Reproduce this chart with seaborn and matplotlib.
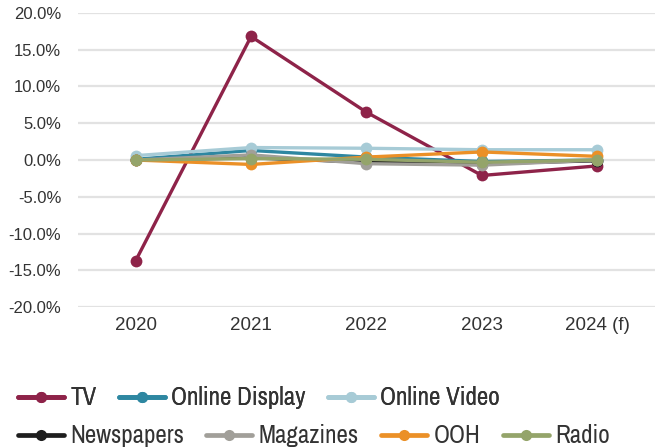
import matplotlib
matplotlib.use("Agg")
import matplotlib.pyplot as plt
from matplotlib.lines import Line2D
from matplotlib import font_manager
import seaborn as sns
import pandas as pd

years = ["2020", "2021", "2022", "2023", "2024 (f)"]
channels = ["TV", "Online Display", "Online Video", "Newspapers", "Magazines", "OOH", "Radio"]

tv = [-13.7, 16.8, 6.5, -2.1, -0.8]
online_display = [0.1, 1.3, 0.4, -0.2, 0.0]
online_video = [0.6, 1.7, 1.6, 1.4, 1.4]
newspapers = [0.0, 0.3, -0.3, -0.5, -0.1]
magazines = [0.0, 0.7, -0.5, -0.7, 0.0]
ooh = [0.0, -0.6, 0.4, 1.1, 0.5]
radio = [0.0, 0.2, 0.1, -0.3, 0.0]

colors = ["#8E2349", "#2E87A1", "#A7CBD6", "#1E1E1E", "#A19F99", "#EB9027", "#94A46A"]

series = [tv, online_display, online_video, newspapers, magazines, ooh, radio]
rows = []
for name, vals in zip(channels, series):
    for y, v in zip(years, vals):
        rows.append({"Year": y, "Channel": name, "Change": v})
df = pd.DataFrame(rows)

sns.set_theme(style="white")
plt.rcParams["font.family"] = ["Liberation Sans", "DejaVu Sans"]

# prefer a condensed face for the legend when one is available
installed = sorted({f.name for f in font_manager.fontManager.ttflist})
narrow = [n for n in installed if "Narrow" in n or "Condensed" in n]
if narrow:
    legend_font = {"family": narrow[0], "size": 18}
else:
    legend_font = {"family": "Roboto", "size": 15}

fig = plt.figure(figsize=(6.55, 4.47), dpi=100)
ax = fig.add_axes([0.119, 0.313, 0.881, 0.658])

sns.lineplot(data=df, x="Year", y="Change", hue="Channel", hue_order=channels,
             palette=colors, ax=ax, linewidth=2.4, marker="o", markersize=8.5,
             markeredgewidth=0, sort=False, legend=False)

ax.set_xlim(-0.5, 4.5)
ax.set_ylim(-20, 20)
ax.set_yticks(range(-20, 21, 5))
ax.set_yticklabels([f"{v:.1f}%" for v in range(-20, 21, 5)])
ax.set_xlabel("")
ax.set_ylabel("")
ax.yaxis.grid(True, color="#E2E2E2", linewidth=1.6)
ax.set_axisbelow(True)
for s in ax.spines.values():
    s.set_visible(False)
ax.tick_params(axis="both", length=0, labelcolor="#333333")
ax.tick_params(axis="y", labelsize=12, pad=12)
ax.tick_params(axis="x", labelsize=13.5, pad=7)

def handle(c):
    return Line2D([0], [0], color=c, linewidth=3.4, marker="o", markersize=8, markeredgewidth=0)

common = dict(loc="center left", frameon=False, prop=legend_font, handlelength=1.84,
              columnspacing=0.9, handletextpad=0.25, labelcolor="#333333", borderpad=0.2)
row1 = fig.legend([handle(c) for c in colors[:3]], channels[:3], ncol=3,
                  bbox_to_anchor=(0.0005, 0.110), **common)
row2 = fig.legend([handle(c) for c in colors[3:]], channels[3:], ncol=4,
                  bbox_to_anchor=(0.0005, 0.025), **common)
fig.add_artist(row1)

fig.savefig("out.png", dpi=100)
